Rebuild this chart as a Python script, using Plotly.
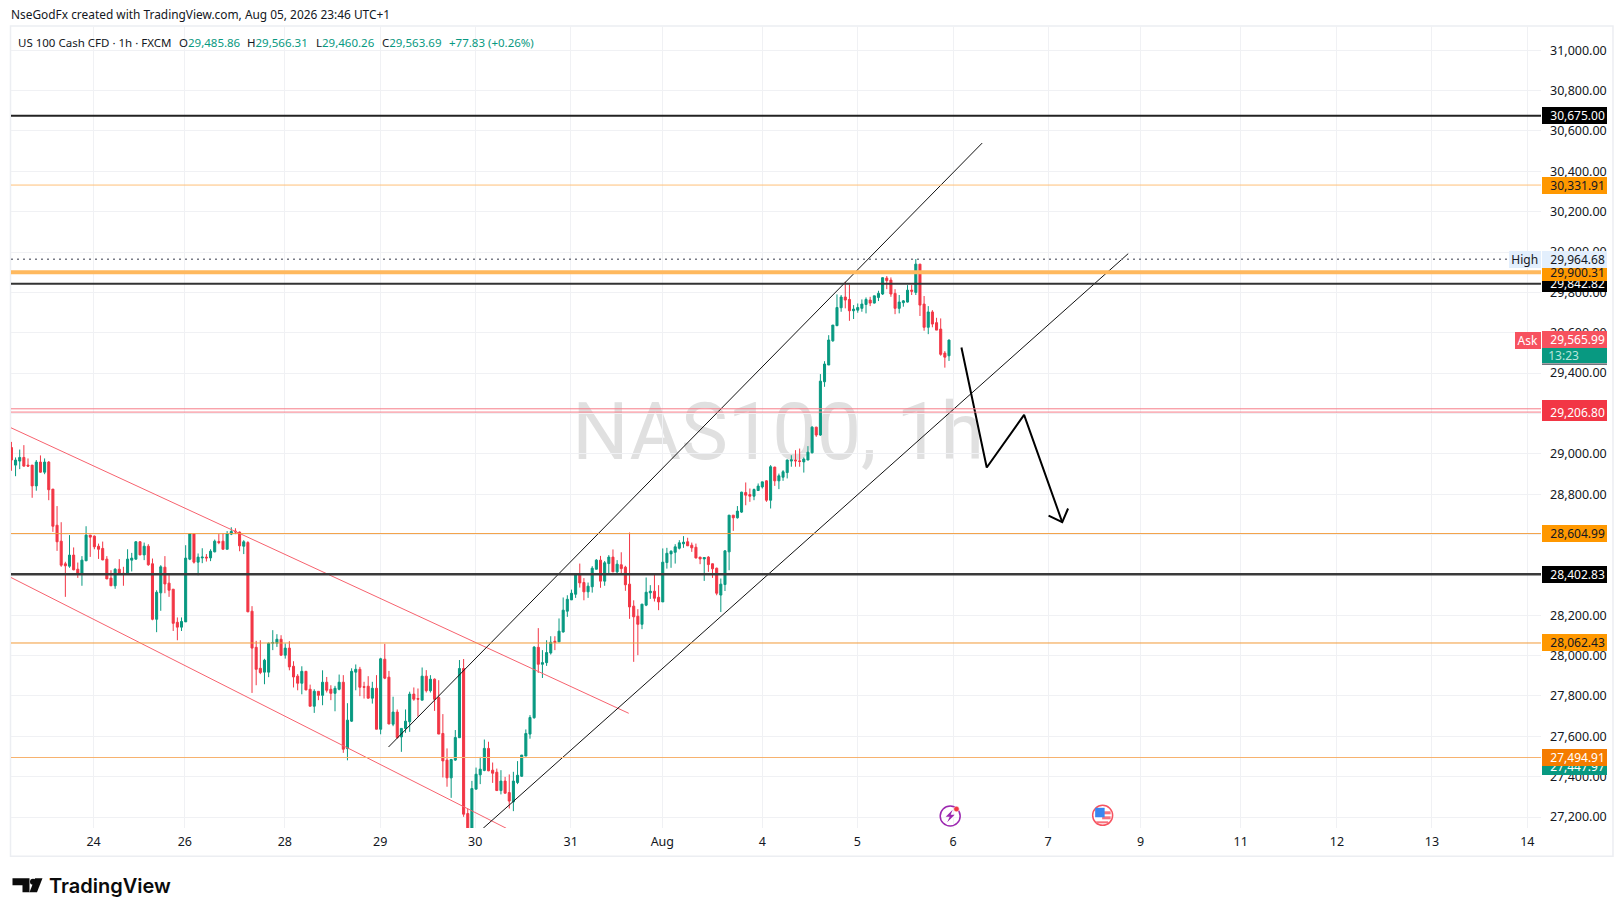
import plotly.graph_objects as go

# Hourly US 100 candles
opens = [29031, 28944, 28964, 28982, 28944, 28944, 28841, 28959, 28909, 28959, 28825, 28646, 28567, 28455, 28443, 28498, 28428, 28402, 28470, 28597,
         28592, 28542, 28531, 28478, 28384, 28346, 28428, 28408, 28405, 28473, 28478, 28564, 28499, 28542, 28455, 28180, 28311, 28438, 28359, 28329,
         28165, 28141, 28167, 28478, 28603, 28463, 28484, 28488, 28484, 28514, 28565, 28567, 28527, 28602, 28617, 28612, 28542, 28560, 28220, 28041,
         27937, 27918, 27918, 28061, 28061, 28081, 28002, 28037, 27947, 27898, 27863, 27922, 27833, 27749, 27823, 27803, 27868, 27833, 27813, 27833,
         27868, 27539, 27675, 27918, 27932, 27846, 27848, 27789, 27838, 27635, 27982, 27893, 27660, 27720, 27597, 27639, 27672, 27809, 27787, 27779,
         27898, 27826, 27883, 27792, 27614, 27482, 27394, 27482, 27593, 27936, 27217, 27100, 27338, 27409, 27431, 27540, 27432, 27422, 27331, 27378,
         27321, 27275, 27371, 27402, 27502, 27611, 27692, 28041, 27957, 27965, 28013, 28071, 28068, 28117, 28220, 28276, 28304, 28405, 28362, 28316,
         28341, 28428, 28473, 28369, 28456, 28488, 28415, 28450, 28438, 28354, 28245, 28195, 28155, 28250, 28311, 28319, 28289, 28266, 28461, 28504,
         28512, 28532, 28554, 28564, 28547, 28537, 28488, 28479, 28488, 28455, 28433, 28300, 28352, 28514, 28696, 28683, 28711, 28808, 28798, 28790,
         28818, 28836, 28866, 28770, 28934, 28866, 28884, 28907, 28964, 28969, 28965, 28960, 28969, 29005, 29132, 29093, 29357, 29440, 29560, 29635,
         29724, 29777, 29765, 29709, 29712, 29721, 29740, 29762, 29747, 29775, 29792, 29871, 29861, 29795, 29721, 29749, 29752, 29811, 29800, 29940,
         29742, 29627, 29703, 29650, 29618, 29499, 29485.86]
highs = [29059, 28982, 29021, 29043, 28977, 28944, 28969, 28992, 28977, 28964, 28825, 28741, 28661, 28465, 28597, 28536, 28461, 28493, 28641, 28597,
         28595, 28555, 28565, 28493, 28423, 28433, 28478, 28440, 28527, 28509, 28567, 28567, 28560, 28552, 28481, 28324, 28448, 28493, 28407, 28329,
         28189, 28189, 28547, 28605, 28605, 28506, 28532, 28503, 28527, 28575, 28602, 28605, 28617, 28636, 28631, 28615, 28572, 28567, 28245, 28073,
         28076, 27984, 28065, 28126, 28106, 28101, 28060, 28071, 27972, 27908, 27947, 27922, 27856, 27833, 27823, 27927, 27894, 27853, 27850, 27906,
         27903, 27764, 27937, 27956, 27944, 27870, 27898, 27870, 27903, 27989, 28058, 27924, 27796, 27733, 27639, 27733, 27821, 27842, 27837, 27941,
         27928, 27903, 27887, 27878, 27710, 27540, 27488, 27631, 27978, 27983, 27242, 27379, 27445, 27498, 27584, 27573, 27470, 27440, 27432, 27399,
         27411, 27424, 27477, 27507, 27634, 27705, 28047, 28136, 28027, 28076, 28096, 28096, 28184, 28288, 28299, 28327, 28407, 28456, 28384, 28362,
         28443, 28478, 28494, 28469, 28498, 28526, 28473, 28512, 28445, 28610, 28274, 28230, 28255, 28387, 28349, 28405, 28349, 28531, 28534, 28522,
         28552, 28572, 28592, 28584, 28560, 28555, 28489, 28486, 28493, 28456, 28436, 28382, 28522, 28696, 28696, 28741, 28812, 28858, 28828, 28828,
         28853, 28861, 28869, 28944, 28936, 28902, 28919, 28972, 28993, 29018, 29026, 28982, 29038, 29137, 29134, 29395, 29459, 29588, 29638, 29790,
         29787, 29853, 29839, 29737, 29745, 29765, 29775, 29778, 29783, 29808, 29874, 29881, 29874, 29816, 29787, 29762, 29836, 29836, 29965, 29940,
         29782, 29732, 29712, 29674, 29671, 29509, 29566.31]
lows = [28916, 28889, 28924, 28936, 28936, 28782, 28817, 28906, 28899, 28770, 28613, 28519, 28440, 28291, 28435, 28423, 28385, 28346, 28468, 28489,
        28527, 28479, 28473, 28379, 28346, 28331, 28405, 28346, 28405, 28417, 28476, 28498, 28473, 28445, 28175, 28116, 28222, 28309, 28291, 28122,
        28076, 28122, 28167, 28473, 28456, 28398, 28458, 28466, 28468, 28512, 28552, 28527, 28527, 28597, 28602, 28517, 28503, 28215, 27815, 27853,
        27908, 27858, 27893, 28027, 28043, 27998, 27985, 27927, 27842, 27828, 27808, 27828, 27749, 27716, 27779, 27754, 27817, 27779, 27724, 27828,
        27518, 27481, 27671, 27828, 27799, 27787, 27787, 27762, 27635, 27610, 27883, 27660, 27650, 27588, 27523, 27617, 27622, 27776, 27697, 27779,
        27817, 27817, 27726, 27611, 27396, 27350, 27295, 27478, 27593, 27201, 27050, 27050, 27338, 27363, 27427, 27427, 27369, 27331, 27312, 27317,
        27242, 27229, 27363, 27399, 27502, 27588, 27687, 27914, 27889, 27949, 28005, 28027, 28068, 28114, 28192, 28276, 28286, 28337, 28274, 28286,
        28312, 28427, 28336, 28346, 28407, 28415, 28403, 28407, 28321, 28182, 27969, 28002, 28131, 28245, 28281, 28268, 28225, 28266, 28431, 28435,
        28456, 28526, 28534, 28544, 28514, 28481, 28453, 28370, 28415, 28385, 28299, 28216, 28320, 28423, 28618, 28679, 28707, 28745, 28762, 28770,
        28817, 28828, 28762, 28729, 28841, 28825, 28866, 28878, 28936, 28936, 28936, 28907, 28969, 29002, 29084, 29089, 29332, 29440, 29555, 29633,
        29704, 29721, 29659, 29668, 29699, 29704, 29696, 29732, 29745, 29757, 29787, 29816, 29778, 29692, 29696, 29729, 29750, 29787, 29787, 29683,
        29610, 29593, 29627, 29613, 29486, 29427, 29460.26]
closes = [28969, 28969, 28982, 28939, 28939, 28841, 28959, 28909, 28959, 28822, 28641, 28564, 28448, 28445, 28498, 28425, 28402, 28473, 28597, 28587,
          28539, 28527, 28474, 28380, 28346, 28428, 28405, 28405, 28478, 28483, 28564, 28499, 28542, 28450, 28180, 28314, 28440, 28355, 28324, 28160,
          28141, 28169, 28483, 28603, 28463, 28488, 28488, 28484, 28517, 28567, 28560, 28527, 28605, 28615, 28613, 28544, 28564, 28217, 28037, 27932,
          27916, 27977, 28061, 28065, 28081, 28002, 28037, 27944, 27894, 27863, 27922, 27830, 27749, 27823, 27803, 27868, 27828, 27813, 27838, 27868,
          27536, 27680, 27922, 27932, 27843, 27843, 27789, 27838, 27635, 27984, 27888, 27661, 27720, 27594, 27639, 27675, 27809, 27784, 27784, 27898,
          27826, 27883, 27783, 27611, 27478, 27394, 27485, 27594, 27936, 27214, 27100, 27341, 27412, 27437, 27540, 27429, 27417, 27331, 27378, 27318,
          27279, 27378, 27407, 27507, 27614, 27693, 28042, 27957, 27965, 28015, 28066, 28065, 28121, 28225, 28279, 28309, 28403, 28360, 28316, 28344,
          28433, 28473, 28369, 28460, 28488, 28415, 28453, 28431, 28351, 28241, 28192, 28155, 28255, 28314, 28319, 28284, 28266, 28463, 28507, 28517,
          28539, 28559, 28562, 28544, 28534, 28484, 28479, 28486, 28451, 28430, 28309, 28354, 28519, 28696, 28683, 28716, 28810, 28795, 28790, 28823,
          28840, 28861, 28770, 28936, 28866, 28891, 28911, 28969, 28970, 28965, 28962, 28974, 29008, 29132, 29093, 29360, 29445, 29564, 29638, 29725,
          29777, 29762, 29709, 29717, 29725, 29742, 29765, 29747, 29783, 29795, 29873, 29858, 29792, 29721, 29752, 29758, 29811, 29806, 29940, 29737,
          29627, 29703, 29643, 29613, 29493, 29479, 29563.69]

# x axis labels, placed on bar numbers
tick_bars = [19.8, 41.8, 65.9, 88.9, 111.8, 134.8, 156.9, 181, 203.9, 227, 249.9, 272.2, 296.3, 319.5, 342.4, 365.4]
tick_labels = ["24", "26", "28", "29", "30", "31", "Aug", "4", "5", "6", "7", "9", "11", "12", "13", "14"]
price_ticks = [27200, 27400, 27600, 27800, 28000, 28200, 28400, 28600, 28800, 29000, 29200, 29400, 29600, 29800, 30000, 30200, 30400, 30600, 30800, 31000]

# Drawn trend lines (bar number, price)
red_top_x, red_top_y = [-0.2, 148.8], [29130, 27714]
red_bottom_x, red_bottom_y = [-0.2, 119.3], [28388, 27144]
black_top_x, black_top_y = [90.9, 234], [27547, 30540]
black_bottom_x, black_bottom_y = [113.7, 269.2], [27144, 29992]
zigzag_x, zigzag_y = [229, 235.1, 244.1, 253.3], [29527, 28932, 29193, 28661]
head_x, head_y = [250, 253.3, 254.7], [28694, 28661, 28729]

# Horizontal levels: price, colour, width
level_prices = [30675.00, 30331.91, 29900.31, 29842.82, 29223.00, 29206.80, 28604.99, 28402.83, 28062.43, 27494.91]
level_colors = ["#222222", "#ffc078", "#ffb95e", "#333333", "#f77c88", "#f77c88", "#f29a38", "#3a3a3a", "#f29a38", "#f7b26e"]
level_widths = [2, 1, 4, 2.2, 1, 1, 0.9, 2.4, 1, 1]
high_price = 29964.68

# Price tags on the right axis, drawn in this order so the later ones sit on top
tag_prices = [30675.00, 30331.91, 29842.82, 29900.31, 29964.68, 29565.99, 29223.00, 29206.80, 28604.99, 28402.83, 28062.43, 27447.97, 27494.91]
tag_backs = ["#000000", "#ff9800", "#000000", "#ff9800", "#e3effd", "#f7525f", "#f23645", "#f23645", "#ff9800", "#000000", "#ff9800", "#089981", "#f57c00"]
tag_fonts = ["#ffffff", "#131722", "#ffffff", "#131722", "#131722", "#ffffff", "#ffffff", "#ffffff", "#131722", "#ffffff", "#131722", "#ffffff", "#ffffff"]

UP = "#089981"
DOWN = "#f23645"
GRID = "#f0f1f4"
TEXT = "#131722"
FONT = "Noto Sans"

# Plot area in page pixels
L, R, T, B = 10.5, 1541, 26, 827.7


def px_x(v):
    return (v - L) / (R - L)


def px_y(v):
    return (B - v) / (B - T)


def page_path(points):
    return "M " + " L ".join(f"{px_x(x):.5f} {px_y(y):.5f}" for x, y in points) + " Z"


def page_text(fig, x, y, text, color=TEXT, size=11.5, **kw):
    fig.add_annotation(xref="paper", yref="paper", x=px_x(x), y=px_y(y), text=text, showarrow=False,
                       xanchor="left", yanchor="middle", borderpad=0, borderwidth=0,
                       font=dict(family=FONT, size=size, color=color), **kw)


fig = go.Figure()

fig.add_trace(go.Candlestick(
    x=list(range(len(opens))), open=opens, high=highs, low=lows, close=closes,
    increasing=dict(line=dict(color=UP, width=1), fillcolor=UP),
    decreasing=dict(line=dict(color=DOWN, width=1), fillcolor=DOWN),
    whiskerwidth=0, hoverinfo="skip", showlegend=False,
))

for xs, ys, color, width in [
    (red_top_x, red_top_y, "#f7626e", 1),
    (red_bottom_x, red_bottom_y, "#f7626e", 1),
    (black_top_x, black_top_y, "#111111", 1),
    (black_bottom_x, black_bottom_y, "#111111", 1),
    (zigzag_x, zigzag_y, "#000000", 2),
    (head_x, head_y, "#000000", 2),
]:
    fig.add_trace(go.Scatter(x=xs, y=ys, mode="lines", line=dict(color=color, width=width),
                             hoverinfo="skip", showlegend=False))

for price, color, width in zip(level_prices, level_colors, level_widths):
    fig.add_shape(type="line", xref="paper", x0=0, x1=1, yref="y", y0=price, y1=price,
                  line=dict(color=color, width=width))

fig.add_shape(type="line", xref="paper", x0=0, x1=px_x(1509), yref="y", y0=high_price, y1=high_price,
              line=dict(color="#787b86", width=1.5, dash="2px,4px"))

# Watermark stays under the candles
fig.add_shape(type="rect", xref="paper", yref="paper", x0=px_x(566), x1=px_x(990), y0=px_y(460), y1=px_y(392),
              line=dict(width=0), fillcolor="rgba(0,0,0,0)", layer="below",
              label=dict(text="NAS100, 1h", textposition="middle center",
                         font=dict(family="Roboto", size=79, color="#e0e0e0")))

# Outer frame
fig.add_shape(type="rect", xref="paper", yref="paper", x0=px_x(10), x1=px_x(1613), y0=px_y(856), y1=px_y(26),
              line=dict(color="#eceef2", width=1.5), layer="below")

for price, back, color in zip(tag_prices, tag_backs, tag_fonts):
    fig.add_annotation(xref="paper", yref="y", x=px_x(1542), y=price, text=f"&nbsp;&nbsp;{price:,.2f}", showarrow=False,
                       xanchor="left", yanchor="middle", width=65, height=17, align="center", borderpad=0, borderwidth=0,
                       bgcolor=back, font=dict(family=FONT, size=12, color=color))

# Countdown under the ask tag, and the two small pills left of the axis
page_text(fig, 1542, 355.8, "&nbsp;&nbsp;13:23", color="#b9e6dc", size=12, width=65, height=15, align="left", bgcolor=UP)
fig.add_shape(type="rect", xref="paper", yref="paper", x0=px_x(1542), x1=px_x(1607), y0=px_y(364.5), y1=px_y(363.3),
              line=dict(width=0), fillcolor="#434651")
page_text(fig, 1509, 259.3, "High", size=12, width=31.5, height=17, align="center", bgcolor="#e3effd")
page_text(fig, 1515, 340, "Ask", color="#ffffff", size=12, width=25.5, height=17, align="center", bgcolor="#f7525f")

# Header and legend line
page_text(fig, 10, 14, "NseGodFx created with TradingView.com, Aug 05, 2026 23:46 UTC+1", size=11.9)
legend_x = [17.5, 179, 247, 316, 382]
legend_names = ["US 100 Cash CFD · 1h · FXCM", "O", "H", "L", "C"]
legend_values = ["", "29,485.86", "29,566.31", "29,460.26", "29,563.69"]
for x, name, value in zip(legend_x, legend_names, legend_values):
    page_text(fig, x, 42, f'{name}<span style="color:{UP}">{value}</span>')
page_text(fig, 449, 42, "+77.83 (+0.26%)", color=UP)

# Lightning marker
fig.add_shape(type="circle", xref="paper", yref="paper", x0=px_x(940), x1=px_x(960), y0=px_y(825.7), y1=px_y(805.7),
              line=dict(color="#9c27b0", width=1.5))
fig.add_shape(type="path", xref="paper", yref="paper",
              path=page_path([(952.5, 809.5), (945.5, 816.5), (949.5, 816.5), (947, 822), (954.5, 814.5), (950.5, 814.5)]),
              fillcolor="#9c27b0", line=dict(width=0))
fig.add_shape(type="circle", xref="paper", yref="paper", x0=px_x(953.5), x1=px_x(959), y0=px_y(811.5), y1=px_y(806),
              fillcolor="#f23645", line=dict(color="#ffffff", width=0.5))

# Flag marker
fig.add_shape(type="circle", xref="paper", yref="paper", x0=px_x(1092.5), x1=px_x(1112.5), y0=px_y(825), y1=px_y(805),
              fillcolor="#ffffff", line=dict(color="#f7525f", width=1.5))
for x0, x1, y0, y1 in [(1102, 1110.5, 811, 814), (1102, 1110.5, 816, 819), (1096, 1108, 821, 823)]:
    fig.add_shape(type="rect", xref="paper", yref="paper", x0=px_x(x0), x1=px_x(x1), y0=px_y(y1), y1=px_y(y0),
                  fillcolor="#f7727e", line=dict(width=0))
fig.add_shape(type="rect", xref="paper", yref="paper", x0=px_x(1095), x1=px_x(1104.5), y0=px_y(817), y1=px_y(807.5),
              fillcolor="#3a86f0", line=dict(width=0))

# TradingView logo
for shape in [[(12, 878), (29, 878), (29, 892), (22, 892), (22, 885), (12, 885)],
              [(42, 878), (34.5, 878), (29, 892), (36.5, 892)]]:
    fig.add_shape(type="path", xref="paper", yref="paper", path=page_path(shape), fillcolor="#0b0b0b", line=dict(width=0))
fig.add_shape(type="circle", xref="paper", yref="paper", x0=px_x(29.5), x1=px_x(35.5), y0=px_y(884.5), y1=px_y(878.5),
              fillcolor="#0b0b0b", line=dict(width=0))
fig.add_annotation(xref="paper", yref="paper", x=px_x(48.5), y=px_y(886), text="TradingView", showarrow=False,
                   xanchor="left", yanchor="middle", borderpad=0, borderwidth=0,
                   font=dict(family="Inter", size=20, color="#0b0b0b", weight=600))

fig.update_layout(
    width=1623, height=916,
    margin=dict(l=L, r=1623 - R, t=T, b=916 - B, pad=0, autoexpand=False),
    paper_bgcolor="white", plot_bgcolor="white",
    font=dict(family=FONT, size=12.5, color=TEXT),
    showlegend=False,
    xaxis=dict(range=[-0.1, 368.7], tickvals=tick_bars, ticktext=tick_labels, showgrid=True, gridcolor=GRID,
               gridwidth=1, zeroline=False, showline=False, ticks="", rangeslider=dict(visible=False),
               ticklabelstandoff=4),
    yaxis=dict(range=[27145.5, 31120.2], side="right", tickvals=price_ticks,
               ticktext=[f"{p:,.2f}" for p in price_ticks], showgrid=True, gridcolor=GRID, gridwidth=1,
               zeroline=False, showline=False, ticks="", ticklabelstandoff=8),
)

fig.write_html("out.html", config={"displayModeBar": False},
               post_script="document.body.style.margin='0';")
